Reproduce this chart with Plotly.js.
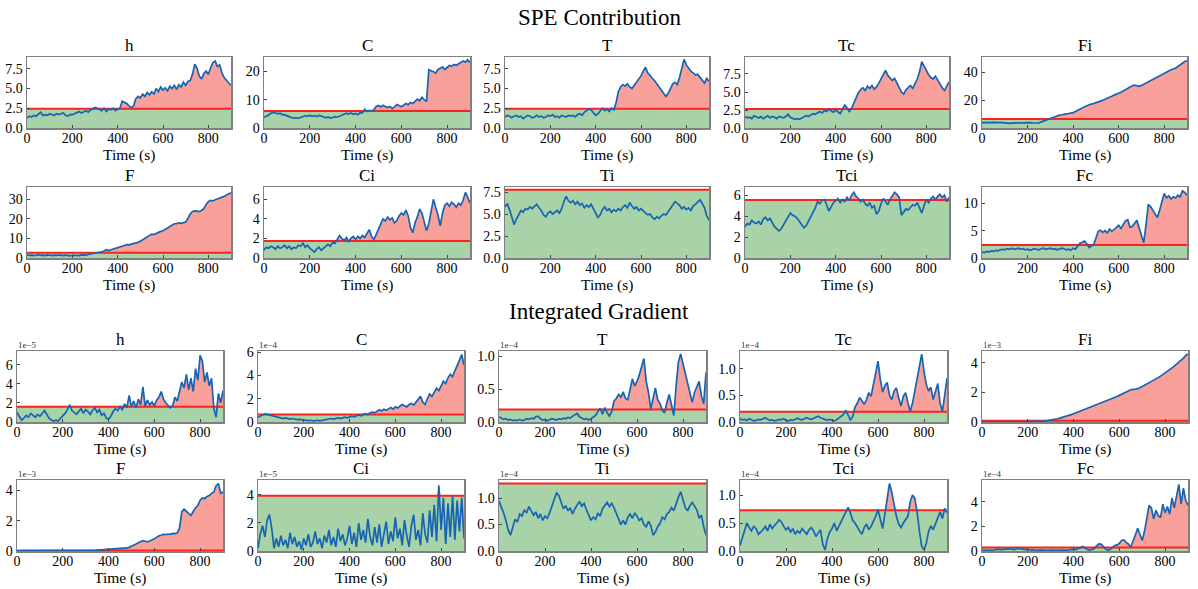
<!DOCTYPE html>
<html>
<head>
<meta charset="utf-8">
<script src="https://cdn.plot.ly/plotly-3.0.1.min.js"></script>
<style>html,body{margin:0;padding:0;background:#fff;}#chart{width:1198px;height:589px;}</style>
</head>
<body>
<div id="chart"></div>
<script>
// ---------------- DATA ----------------
const time = [0,10,20,30,40,50,60,70,80,90,100,110,120,130,140,150,160,170,180,190,200,210,220,230,240,250,260,270,280,290,300,310,320,330,340,350,360,370,380,390,400,410,420,430,440,450,460,470,480,490,500,510,520,530,540,550,560,570,580,590,600,610,620,630,640,650,660,670,680,690,700,710,720,730,740,750,760,770,780,790,800,810,820,830,840,850,860,870,880,890,900];
const varNames = ["h","C","T","Tc","Fi","F","Ci","Ti","Tci","Fc"];
const xTicks = [0,200,400,600,800];
const sectionTitles = ["SPE Contribution","Integrated Gradient"];
const xLabel = "Time (s)";

// SPE contribution series
const spe_h = [1.3,1.5,1.4,1.6,1.5,1.7,2.0,1.6,1.7,1.6, 1.8,1.7,1.6,1.8,1.7,1.8,1.9,1.6,1.5,1.7, 1.7,1.8,1.9,2.1,1.9,2.0,2.2,2.0,2.3,2.4, 2.6,2.5,2.4,2.2,2.5,2.1,2.4,2.3,2.5,2.2, 2.4,2.5,3.4,3.3,3.1,2.8,2.6,2.8,3.7,4.0, 3.8,4.3,4.0,4.5,4.2,4.6,4.3,5.0,4.6,5.2, 4.8,5.1,4.7,5.3,5.0,5.4,4.9,5.5,5.2,5.8, 5.4,5.9,6.0,6.8,8.1,7.6,6.6,6.2,6.9,7.2, 6.8,7.6,8.3,8.5,7.8,8.0,7.0,6.4,6.0,5.7,5.4];
const spe_C = [3.8,4.2,4.5,5.2,5.5,5.3,5.0,5.2,4.7,4.6, 4.4,4.0,3.7,3.5,3.6,3.4,3.7,4.1,4.3,4.2, 4.4,4.1,4.3,4.0,4.4,4.2,3.8,3.6,3.9,3.5, 3.7,4.0,3.8,4.2,4.5,4.8,5.2,4.9,5.3,4.8, 5.1,4.7,5.4,5.3,6.6,5.8,6.2,6.0,6.4,7.6, 7.9,7.4,8.0,7.6,7.2,7.6,6.8,7.4,8.3,7.9, 7.5,8.0,8.6,8.2,9.0,8.6,9.4,10.2,9.6,10.8, 10.0,9.3,20.5,20.2,19.8,19.3,20.6,21.0,21.5,20.6, 21.2,22.0,21.8,22.4,22.1,22.6,23.0,23.6,23.2,24.0,23.0];
const spe_T = [1.4,1.6,1.5,1.3,1.5,1.6,1.4,1.5,1.2,1.4, 1.6,1.5,1.3,1.4,1.6,1.4,1.5,1.3,1.4,1.6, 1.5,1.7,1.4,1.5,1.3,1.6,1.5,1.4,1.6,1.5, 1.6,1.4,1.7,1.8,1.6,2.0,2.2,2.4,2.3,1.9, 1.6,1.8,2.1,2.5,2.2,2.4,2.1,2.5,2.3,3.2, 4.6,5.2,5.5,5.3,5.6,5.2,5.0,5.4,5.8,6.2, 6.6,7.2,7.7,7.0,6.6,6.3,6.0,5.6,5.2,4.9, 4.5,4.0,4.4,5.0,5.6,5.8,5.5,6.4,7.6,8.7, 8.0,7.6,7.2,7.0,6.7,6.8,6.4,6.0,5.7,6.3,5.9];
const spe_Tc = [1.6,1.4,1.5,1.3,1.7,1.5,1.4,1.6,1.3,1.5, 1.7,1.4,1.6,1.5,1.3,1.6,1.5,1.4,1.6,1.9, 1.5,1.3,1.2,1.3,1.2,1.4,1.5,1.7,1.6,1.8, 2.0,1.9,2.1,2.3,2.1,2.4,2.3,2.6,2.4,2.2, 2.5,2.2,2.0,2.6,3.2,2.8,2.3,2.7,3.4,4.2, 4.9,5.3,5.6,5.2,5.8,5.5,5.9,5.4,5.7,6.2, 6.8,7.4,8.0,7.3,7.0,6.6,6.9,6.2,5.6,5.0, 4.7,5.3,5.6,5.9,5.5,6.1,6.8,7.8,9.2,8.6, 7.9,7.4,7.0,6.8,7.2,6.6,6.0,5.6,5.2,5.8,6.4];
const spe_Fi = [3.9,4.0,3.8,4.1,3.9,4.2,4.0,3.8,4.1,3.9, 3.7,3.4,3.3,3.5,3.6,3.8,3.7,3.9,4.0,3.8, 4.1,3.9,3.7,3.5,3.3,3.6,4.4,5.2,5.6,6.2, 6.8,7.5,8.0,8.6,9.2,9.5,10.0,10.2,10.4,10.6, 11.0,11.8,12.8,13.6,14.4,15.3,16.0,16.8,17.2,17.6, 18.0,18.6,19.3,20.0,20.6,21.3,22.0,22.8,23.6,24.2, 24.8,25.6,26.6,27.6,28.6,29.6,30.4,30.8,30.2,30.0, 30.6,31.5,32.4,33.2,34.2,35.0,36.0,37.0,37.8,38.6, 39.4,40.2,41.0,41.8,42.4,43.0,44.2,45.4,46.6,47.8,48.2];
const spe_F = [1.6,1.3,1.5,1.2,1.4,1.7,1.3,1.5,1.2,1.6, 1.4,1.2,1.5,1.3,1.6,1.4,1.2,1.5,1.3,1.1, 1.4,1.3,1.5,1.2,1.6,1.4,1.5,1.8,2.0,2.3, 2.6,2.9,3.0,3.2,3.6,4.2,3.8,4.4,4.6,4.9, 5.2,5.6,6.1,6.4,6.8,6.7,7.1,7.3,7.6,8.0, 8.6,9.3,10.2,11.0,11.8,12.2,12.0,12.6,13.0,13.6, 13.9,14.6,15.4,16.1,16.9,17.5,17.6,17.9,17.7,18.0, 18.4,20.2,22.5,23.8,24.1,24.0,23.7,24.3,25.2,27.3, 28.8,29.4,29.2,29.8,30.2,30.5,31.0,31.5,32.2,33.0,33.4];
const spe_Ci = [0.8,1.1,1.0,1.2,1.1,0.9,1.2,1.0,1.1,1.3, 1.0,1.2,0.9,1.1,1.0,1.3,1.2,1.5,1.1,1.3, 1.0,0.8,0.6,0.9,1.1,0.8,1.0,1.3,1.4,1.2, 1.6,1.5,1.9,2.3,2.0,1.8,2.1,1.7,2.0,2.2, 1.9,2.2,2.0,2.3,2.1,2.5,2.9,2.2,1.9,2.4, 3.0,3.6,4.0,3.8,4.2,3.9,4.1,3.6,3.8,4.3, 4.6,4.4,4.9,4.3,3.1,2.6,3.6,4.2,5.0,4.6, 3.7,2.8,3.5,4.7,6.0,5.2,4.4,3.3,4.6,5.4, 5.6,5.3,5.7,5.5,5.2,5.6,5.4,5.9,6.7,6.2,5.6];
const spe_Ti = [5.8,6.2,5.5,4.6,3.8,4.4,5.0,5.4,5.2,5.6, 5.5,5.8,5.6,5.9,6.1,5.7,5.4,4.9,4.7,5.1, 5.3,5.0,5.2,5.4,5.1,5.6,6.4,7.0,6.5,6.3, 6.5,6.1,6.4,6.0,6.2,5.7,6.0,5.8,6.1,5.6, 5.2,4.6,4.9,5.5,5.8,5.4,5.6,5.2,5.5,5.3, 5.6,5.4,5.8,6.0,5.7,6.3,5.9,5.6,5.8,5.4, 5.6,5.3,5.1,4.9,5.0,4.6,4.4,4.7,4.5,4.8, 5.0,4.9,5.3,5.6,6.0,6.4,6.2,6.0,5.6,5.8, 5.5,5.7,5.4,5.9,6.1,6.4,6.6,6.2,5.7,4.8,4.3];
const spe_Tci = [3.0,3.3,3.2,3.6,3.4,3.3,3.5,3.2,3.7,3.9, 3.6,3.8,3.4,3.0,2.8,2.6,2.8,3.2,3.6,4.0, 4.3,4.1,4.0,3.8,3.5,3.2,2.9,3.1,3.5,4.0, 4.4,4.8,5.4,5.2,5.5,5.6,5.1,4.5,4.9,5.3, 5.5,5.7,5.3,5.6,5.4,5.8,5.5,6.0,6.3,5.9, 5.7,5.4,5.6,5.2,5.0,5.3,4.8,5.0,4.2,4.5, 5.2,5.7,5.4,5.1,5.6,6.0,6.3,6.1,5.8,4.1, 4.4,4.7,4.6,4.9,5.1,5.0,5.3,4.8,4.3,5.0, 5.6,5.3,5.7,5.9,5.6,5.9,6.1,5.8,6.0,5.4,5.8];
const spe_Fc = [1.1,1.0,1.2,1.1,1.3,1.2,1.4,1.3,1.5,1.6, 1.5,1.7,1.6,1.8,1.6,1.7,1.8,1.6,1.7,1.5, 1.6,1.4,1.5,1.7,1.6,1.5,1.7,1.8,1.6,1.7, 1.8,1.6,1.7,1.5,1.6,1.8,1.7,1.5,1.6,1.4, 1.8,1.6,2.2,2.7,2.9,3.1,2.6,1.9,2.2,2.4, 3.6,4.9,5.1,4.7,5.0,4.6,5.3,4.9,5.2,5.6, 6.0,5.4,6.2,6.8,7.0,5.6,5.8,6.4,6.9,5.5, 4.3,2.8,6.0,9.8,9.4,8.8,8.2,7.4,8.8,10.6, 11.8,11.0,11.4,10.8,11.2,11.0,11.5,11.2,12.3,12.0,11.5];
const spe_thr = [2.45, 6.0, 2.45, 2.65, 6.4, 2.7, 1.74, 7.75, 5.55, 2.4];
const spe_ymax = [9.0, 25.0, 9.0, 9.86, 51.0, 36.3, 7.26, 8.07, 6.8, 13.0];

// Integrated gradient series (mantissa; exponents below)
const ig_h = [1.0,0.6,0.2,0.4,0.7,0.5,0.9,0.7,0.5,0.8, 0.6,0.9,1.2,0.8,0.4,0.2,0.1,0.2,0.1,0.4, 0.6,0.9,1.3,1.8,1.2,1.0,0.8,1.1,1.4,0.9, 1.3,1.1,0.8,1.2,1.5,1.0,1.3,0.7,0.9,0.4, 0.3,0.6,1.1,1.4,1.2,1.6,1.3,1.9,1.5,2.8, 1.6,2.2,1.5,2.4,1.8,3.7,1.7,2.3,1.8,2.1, 1.7,2.3,2.6,3.2,2.4,2.0,1.7,1.5,1.7,2.6, 2.2,3.1,4.2,3.6,5.0,3.4,4.6,3.2,5.6,4.4, 7.0,6.4,4.2,5.2,3.8,4.6,1.4,0.5,3.0,2.0,3.3];
const ig_C = [0.4,0.5,0.6,0.7,0.65,0.6,0.55,0.5,0.45,0.4, 0.35,0.3,0.35,0.3,0.25,0.3,0.25,0.2,0.22,0.18, 0.2,0.15,0.12,0.15,0.1,0.12,0.15,0.1,0.14,0.2, 0.18,0.22,0.3,0.25,0.28,0.35,0.3,0.38,0.42,0.36, 0.45,0.5,0.44,0.55,0.6,0.52,0.66,0.72,0.65,0.8, 0.85,0.78,0.9,1.05,0.95,1.1,1.0,1.15,1.25,1.1, 1.3,1.2,1.35,1.5,1.4,1.3,1.5,1.6,1.45,1.7, 1.9,2.2,1.7,1.5,2.0,2.4,2.2,2.6,2.9,2.7, 3.1,3.5,3.3,3.8,4.1,3.9,4.4,4.8,5.3,5.8,4.9];
const ig_T = [0.08,0.06,0.04,0.05,0.03,0.04,0.02,0.03,0.02,0.04, 0.02,0.03,0.05,0.04,0.06,0.05,0.08,0.09,0.05,0.03, 0.04,0.02,0.03,0.05,0.04,0.03,0.05,0.04,0.06,0.05, 0.07,0.06,0.09,0.11,0.13,0.08,0.06,0.04,0.05,0.03, 0.05,0.07,0.1,0.16,0.21,0.12,0.22,0.14,0.09,0.16, 0.32,0.36,0.42,0.38,0.46,0.36,0.34,0.5,0.66,0.55, 0.62,0.72,0.85,0.97,0.62,0.45,0.2,0.38,0.52,0.34, 0.28,0.18,0.14,0.3,0.42,0.26,0.1,0.55,0.92,1.04, 0.9,0.72,0.6,0.48,0.3,0.45,0.55,0.62,0.4,0.28,0.76];
const ig_Tc = [0.06,0.04,0.05,0.03,0.06,0.04,0.02,0.03,0.05,0.04, 0.06,0.08,0.05,0.03,0.04,0.02,0.03,0.05,0.04,0.06, 0.03,0.02,0.04,0.03,0.05,0.07,0.05,0.04,0.06,0.08, 0.06,0.05,0.07,0.09,0.11,0.08,0.06,0.04,0.03,0.05, 0.04,0.02,0.04,0.07,0.1,0.14,0.22,0.12,0.04,0.1, 0.28,0.35,0.46,0.4,0.33,0.42,0.55,0.48,0.72,0.95, 1.14,0.8,0.56,0.68,0.74,0.5,0.42,0.58,0.64,0.45, 0.3,0.48,0.55,0.36,0.2,0.35,0.58,0.8,1.05,1.27, 0.95,0.7,0.58,0.65,0.42,0.55,0.72,0.35,0.2,0.5,0.82];
const ig_Fi = [0.02,0.01,0.02,0.01,0.02,0.01,0.02,0.01,0.02,0.01, 0.02,0.01,0.02,0.01,0.02,0.02,0.01,0.02,0.01,0.02, 0.02,0.03,0.02,0.03,0.03,0.04,0.05,0.06,0.08,0.1, 0.12,0.15,0.18,0.22,0.26,0.3,0.34,0.38,0.44,0.5, 0.56,0.62,0.66,0.72,0.78,0.84,0.9,0.96,1.02,1.08, 1.14,1.2,1.25,1.32,1.38,1.44,1.5,1.56,1.64,1.72, 1.8,1.88,1.96,2.04,2.12,2.18,2.2,2.22,2.26,2.32, 2.4,2.48,2.56,2.64,2.72,2.8,2.9,3.0,3.1,3.2, 3.3,3.42,3.54,3.66,3.78,3.9,4.04,4.18,4.32,4.5,4.6];
const ig_F = [0.01,0.01,0.01,0.01,0.01,0.01,0.01,0.01,0.01,0.01, 0.01,0.01,0.01,0.01,0.01,0.01,0.01,0.01,0.01,0.01, 0.01,0.01,0.01,0.02,0.02,0.02,0.02,0.03,0.03,0.03, 0.03,0.04,0.04,0.05,0.05,0.06,0.07,0.08,0.08,0.09, 0.1,0.11,0.12,0.13,0.14,0.15,0.16,0.18,0.2,0.24, 0.3,0.38,0.46,0.55,0.62,0.68,0.64,0.6,0.66,0.72, 0.8,0.9,1.0,1.04,1.1,1.08,1.12,1.1,1.16,1.14, 1.2,1.5,2.6,2.75,2.6,2.45,2.35,2.6,2.85,3.0, 3.35,3.5,3.45,3.6,3.65,3.8,3.9,4.3,4.45,3.8,3.9];
const ig_Ci = [0.2,1.2,1.8,1.0,2.2,2.6,1.6,0.2,0.9,0.3, 1.1,0.4,0.8,0.2,1.3,0.5,1.0,0.3,0.7,0.1, 0.9,0.4,1.2,0.3,0.6,1.4,0.5,0.9,0.2,1.1, 0.6,1.5,0.4,1.0,0.3,1.6,0.7,1.2,0.4,0.9, 1.8,0.5,1.3,0.3,2.0,0.8,1.5,0.6,2.3,1.0, 0.4,1.7,0.6,1.9,0.3,1.2,2.1,0.5,1.4,0.7, 2.4,0.9,1.6,0.4,2.2,1.1,0.3,1.8,2.6,0.8, 1.5,0.4,2.7,1.2,0.6,2.9,1.0,3.3,0.7,4.7, 1.5,3.8,0.5,3.4,1.0,3.9,0.8,3.6,1.4,3.8,0.9];
const ig_Ti = [0.95,0.85,0.72,0.58,0.4,0.3,0.45,0.6,0.55,0.7, 0.66,0.78,0.72,0.84,0.76,0.68,0.74,0.62,0.7,0.58, 0.66,0.62,0.72,0.85,0.98,1.1,1.05,0.92,0.8,0.86, 0.76,0.82,0.7,0.8,0.88,0.94,0.85,0.9,0.78,0.66, 0.58,0.64,0.6,0.72,0.66,0.8,0.86,0.92,0.84,0.9, 0.82,0.7,0.62,0.5,0.58,0.5,0.64,0.7,0.62,0.72, 0.66,0.58,0.62,0.5,0.46,0.56,0.48,0.3,0.36,0.46, 0.52,0.64,0.6,0.7,0.74,0.82,0.76,0.9,1.02,1.12, 0.95,0.82,0.76,0.86,0.92,0.84,0.78,0.62,0.68,0.46,0.3];
const ig_Tci = [0.1,0.25,0.38,0.5,0.42,0.36,0.44,0.4,0.3,0.34, 0.38,0.44,0.36,0.48,0.4,0.46,0.5,0.56,0.52,0.44, 0.38,0.42,0.34,0.4,0.3,0.36,0.32,0.4,0.34,0.3, 0.38,0.42,0.36,0.26,0.32,0.38,0.12,0.02,0.22,0.34, 0.4,0.5,0.36,0.44,0.52,0.62,0.7,0.78,0.68,0.55, 0.5,0.42,0.36,0.3,0.42,0.48,0.38,0.44,0.52,0.62, 0.74,0.56,0.4,0.66,0.98,1.21,1.05,0.8,0.62,0.48, 0.42,0.5,0.56,0.62,0.88,1.0,0.94,0.7,0.36,0.08, 0.02,0.14,0.35,0.45,0.38,0.5,0.62,0.7,0.58,0.76,0.68];
const ig_Fc = [0.08,0.06,0.05,0.07,0.06,0.08,0.12,0.15,0.12,0.14, 0.16,0.14,0.18,0.15,0.12,0.16,0.2,0.17,0.14,0.12, 0.1,0.08,0.1,0.07,0.06,0.08,0.05,0.07,0.06,0.08, 0.05,0.07,0.06,0.08,0.05,0.06,0.08,0.06,0.1,0.12, 0.15,0.12,0.2,0.32,0.36,0.25,0.12,0.08,0.1,0.18, 0.4,0.58,0.56,0.35,0.15,0.08,0.12,0.3,0.45,0.5, 0.62,0.85,0.9,0.7,0.55,0.32,0.75,1.3,1.85,1.4, 0.85,1.6,2.6,3.7,3.5,2.6,3.3,2.9,2.7,3.8, 3.1,3.6,3.0,4.3,3.5,4.6,5.4,3.8,5.1,4.1,3.7];
const ig_thr = [1.6, 0.65, 0.19, 0.19, 0.08, 0.04, 3.95, 1.28, 0.73, 0.28];
const ig_ymax = [7.46, 6.1, 1.085, 1.33, 4.8, 4.68, 5.07, 1.344, 1.27, 5.76];
const ig_exp = ["1e\u22125","1e\u22124","1e\u22124","1e\u22124","1e\u22123","1e\u22123","1e\u22125","1e\u22124","1e\u22124","1e\u22124"];

const speSeries = [spe_h, spe_C, spe_T, spe_Tc, spe_Fi, spe_F, spe_Ci, spe_Ti, spe_Tci, spe_Fc];
const igSeries = [ig_h, ig_C, ig_T, ig_Tc, ig_Fi, ig_F, ig_Ci, ig_Ti, ig_Tci, ig_Fc];
const speDtick = [2.5, 10, 2.5, 2.5, 20, 10, 2, 2.5, 2, 5];
const speFmt = [".1f","d",".1f",".1f","d","d","d",".1f","d","d"];
const igDtick = [2, 2, 0.5, 0.5, 2, 2, 2, 0.5, 0.5, 2];
const igFmt = ["d","d",".1f",".1f","d","d","d",".1f",".1f","d"];

// ---------------- LAYOUT (pixel geometry) ----------------
const W = 1198, H = 589;
const FONT = "Liberation Serif, Times New Roman, serif";
const colsSPE = [[27,231],[264,470],[505,709],[745,949],[982,1187]];
const colsIG = [[17,223],[258,464],[499,706],[740,947],[982,1188]];
const rowsPx = [[57,128],[187,258],[351,422],[480,551]];
const px = x => x / W;
const py = y => 1 - y / H;

const GREEN = "rgb(168,210,168)";
const RED_FILL = "rgb(250,160,155)";
const RED_LINE = "#ff2020";
const BLUE = "#1764b3";
const FRAME = "#808080";

const traces = [];
const layout = {
  width: W, height: H,
  margin: {l:0, r:0, t:0, b:0},
  paper_bgcolor: "#ffffff", plot_bgcolor: "#ffffff",
  showlegend: false,
  font: {family: FONT, color: "#000"},
  annotations: []
};

sectionTitles.forEach((s, i) => {
  layout.annotations.push({
    text: s, xref: "paper", yref: "paper", x: 0.5, y: py(i === 0 ? 17 : 311),
    xanchor: "center", yanchor: "middle", showarrow: false, borderpad: 0,
    font: {family: FONT, size: 23, color: "#000"}
  });
});

for (let i = 0; i < 20; i++) {
  const isIG = i >= 10;
  const j = i % 10;
  const row = Math.floor(i / 5);
  const col = i % 5;
  const [l, r] = (isIG ? colsIG : colsSPE)[col];
  const [top, bot] = rowsPx[row];
  const k = i + 1;
  const xa = "x" + (k === 1 ? "" : k), ya = "y" + (k === 1 ? "" : k);
  const y = isIG ? igSeries[j] : speSeries[j];
  const thr = isIG ? ig_thr[j] : spe_thr[j];
  const thrArr = time.map(() => thr);
  const upper = y.map(v => Math.max(v, thr));

  traces.push({x: time, y: thrArr, xaxis: xa, yaxis: ya, type: "scatter", mode: "lines",
    line: {width: 0}, fill: "tozeroy", fillcolor: GREEN, hoverinfo: "skip"});
  traces.push({x: time, y: upper, xaxis: xa, yaxis: ya, type: "scatter", mode: "lines",
    line: {width: 0}, fill: "tonexty", fillcolor: RED_FILL, hoverinfo: "skip"});
  traces.push({x: time, y: thrArr, xaxis: xa, yaxis: ya, type: "scatter", mode: "lines",
    line: {width: 2, color: RED_LINE}, hoverinfo: "skip"});
  traces.push({x: time, y: y, xaxis: xa, yaxis: ya, type: "scatter", mode: "lines",
    line: {width: 1.7, color: BLUE}, hoverinfo: "skip"});

  const axCommon = {
    showline: true, mirror: true, linecolor: FRAME, linewidth: 1.5,
    showgrid: false, zeroline: false, ticks: "inside", ticklen: 3, tickcolor: "#444", tickwidth: 1,
    tickfont: {family: FONT, size: 14, color: "#000"}, fixedrange: true
  };
  layout["xaxis" + (k === 1 ? "" : k)] = Object.assign({}, axCommon, {
    domain: [px(l), px(r)], range: [0, 900], anchor: ya,
    tickmode: "array", tickvals: xTicks, ticktext: xTicks.map(String),
    ticklabelstandoff: -3
  });
  layout["yaxis" + (k === 1 ? "" : k)] = Object.assign({}, axCommon, {
    domain: [py(bot), py(top)], anchor: xa,
    range: [0, isIG ? ig_ymax[j] : spe_ymax[j]],
    tick0: 0, dtick: isIG ? igDtick[j] : speDtick[j],
    tickformat: isIG ? igFmt[j] : speFmt[j]
  });

  layout.annotations.push({
    text: varNames[j], xref: "paper", yref: "paper", x: px((l + r) / 2), y: py(top),
    xanchor: "center", yanchor: "bottom", yshift: 1, showarrow: false, borderpad: 0,
    font: {family: FONT, size: 17, color: "#000"}
  });
  layout.annotations.push({
    text: xLabel, xref: "paper", yref: "paper", x: px((l + r) / 2), y: py(bot + 17),
    xanchor: "center", yanchor: "top", showarrow: false, borderpad: 0,
    font: {family: FONT, size: 15.5, color: "#000"}
  });
  if (isIG) {
    layout.annotations.push({
      text: ig_exp[j], xref: "paper", yref: "paper", x: px(l), y: py(top),
      xanchor: "left", yanchor: "bottom", showarrow: false, borderpad: 0,
      font: {family: FONT, size: 9, color: "#333"}
    });
  }
}

Plotly.newPlot("chart", traces, layout, {staticPlot: true, displayModeBar: false});
</script>
</body>
</html>
